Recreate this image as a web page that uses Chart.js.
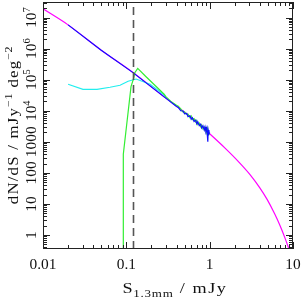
<!DOCTYPE html>
<html>
<head>
<meta charset="utf-8">
<script src="https://cdn.jsdelivr.net/npm/chart.js@4/dist/chart.umd.min.js"></script>
<style>
  html, body { margin: 0; padding: 0; background: #ffffff; }
  #counts { display: block; }
</style>
</head>
<body>
<canvas id="counts" width="302" height="300"></canvas>
<script>
// flux (mJy) and dN/dS values
const sModel = [0.01, 0.02, 0.05, 0.12, 0.3, 0.6, 1.0, 1.53, 2.2, 3.05, 4.0, 4.89, 6.0, 7.0, 8.0, 8.97, 9.6];
const nModel = [1.9e7, 5.8e6, 8.9e5, 1.7e5, 2.5e4, 6.1e3, 1.81e3, 625, 235, 88, 33, 14, 4.9, 1.99, 0.81, 0.346, 0.2];

const sBlue = [0.02, 0.05, 0.118, 0.3, 0.4, 0.42, 0.45, 0.48, 0.5, 0.53, 0.55, 0.58, 0.6, 0.62, 0.65, 0.68, 0.7, 0.72,
               0.75, 0.78, 0.8, 0.83, 0.86, 0.88, 0.9, 0.92, 0.94, 0.95, 0.96, 0.98, 1.0];
const nBlue = [5.8e6, 8.9e5, 1.75e5, 2.5e4, 1.37e4, 12800, 10000, 9800, 8000, 8200, 6400, 6900, 5300, 6000, 4500, 5000, 3800, 4400,
               3300, 3700, 2800, 3300, 2400, 3000, 2200, 2700, 1500, 1000, 2400, 1800, 2000];

const sGreen = [0.0919, 0.092, 0.1138, 0.121, 0.127, 0.137, 0.17, 0.22, 0.284, 0.3, 0.35, 0.4, 0.42, 0.45, 0.48, 0.5, 0.53,
                0.55, 0.58, 0.6, 0.62, 0.65, 0.68, 0.7, 0.72, 0.75, 0.78, 0.8, 0.83, 0.86, 0.88, 0.9, 0.92, 0.94, 0.96, 0.98];
const nGreen = [0.01, 400, 6.0e4, 1.0e5, 1.7e5, 2.3e5, 1.29e5, 6.6e4, 3.4e4, 2.8e4, 1.9e4, 1.5e4, 14000, 11500, 9000, 9200, 7600,
                7800, 6000, 6800, 5200, 5600, 4300, 4800, 3600, 4000, 3100, 3500, 2600, 3000, 2300, 2800, 2000, 2600, 1700, 2200];

const sCyan = [0.02, 0.0302, 0.0445, 0.0637, 0.084, 0.105, 0.131, 0.193, 0.284, 0.3];
const nCyan = [7.1e4, 4.9e4, 4.9e4, 5.7e4, 6.6e4, 8.9e4, 1.05e5, 7.1e4, 3.2e4, 2.6e4];

const sCut = 0.12;

const xTicks = [0.01, 0.1, 1, 10];
const xTickLabels = ['0.01', '0.1', '1', '10'];
const yTicks = [1, 10, 100, 1000, 1e4, 1e5, 1e6, 1e7];
const yTickBase = ['1', '10', '100', '1000', '10', '10', '10', '10'];
const yTickExp = ['', '', '', '', '4', '5', '6', '7'];

const xMin = 0.01, xMax = 10;
const yMin = 0.355, yMax = 3.16e7;

const FONT = '"Liberation Serif", "Times New Roman", serif';

function pts(xs, ys) {
    return xs.map((x, i) => ({x: x, y: ys[i]}));
}

// draw a run of text pieces (size, vertical shift, letter gap) centred on (x, y)
function drawRich(ctx, segs, x, y, rot, stretch) {
    ctx.save();
    ctx.translate(x, y);
    ctx.rotate(rot);
    ctx.scale(stretch, 1);
    ctx.textBaseline = 'alphabetic';
    ctx.textAlign = 'left';
    let total = 0;
    segs.forEach(s => {
        ctx.font = s.size + 'px ' + FONT;
        for (const ch of s.t) total += ctx.measureText(ch).width + (s.gap || 0);
    });
    let cx = -total / 2;
    segs.forEach(s => {
        ctx.font = s.size + 'px ' + FONT;
        for (const ch of s.t) {
            ctx.fillText(ch, cx, s.dy || 0);
            cx += ctx.measureText(ch).width + (s.gap || 0);
        }
    });
    ctx.restore();
}

//frame, inward ticks, labels, cut line
const pgFrame = {
    id: 'pgFrame',
    afterDatasetsDraw: (chart) => {
        const {ctx, chartArea: {top, bottom, left, right}, scales: {x, y}} = chart;
        ctx.save();

        // completeness cut
        const xc = Math.round(x.getPixelForValue(sCut)) + 0.5;
        ctx.strokeStyle = '#555555';
        ctx.lineWidth = 1.6;
        ctx.setLineDash([8, 5]);
        ctx.beginPath();
        ctx.moveTo(xc, bottom);
        ctx.lineTo(xc, top);
        ctx.stroke();
        ctx.setLineDash([]);

        ctx.strokeStyle = '#222222';
        ctx.lineWidth = 1;
        ctx.strokeRect(left + 0.5, top + 0.5, right - left - 1, bottom - top - 1);

        ctx.beginPath();
        for (let d = -2; d <= 1; d++) {
            for (let k = 1; k <= 9; k++) {
                const v = k * Math.pow(10, d);
                if (v < xMin * 0.999 || v > xMax * 1.001) continue;
                const px = Math.round(x.getPixelForValue(v)) + 0.5;
                const len = k === 1 ? 7 : 4;
                ctx.moveTo(px, bottom); ctx.lineTo(px, bottom - len);
                ctx.moveTo(px, top); ctx.lineTo(px, top + len);
            }
        }
        for (let d = -1; d <= 7; d++) {
            for (let k = 1; k <= 9; k++) {
                const v = k * Math.pow(10, d);
                if (v < yMin || v > yMax) continue;
                const py = Math.round(y.getPixelForValue(v)) + 0.5;
                const len = k === 1 ? 7 : 4;
                ctx.moveTo(left, py); ctx.lineTo(left + len, py);
                ctx.moveTo(right, py); ctx.lineTo(right - len, py);
            }
        }
        ctx.stroke();

        ctx.fillStyle = '#111111';
        xTicks.forEach((v, i) => {
            drawRich(ctx, [{t: xTickLabels[i], size: 14}], x.getPixelForValue(v), 268.5, 0, 1.1);
        });
        yTicks.forEach((v, i) => {
            const segs = [{t: yTickBase[i], size: 14}];
            if (yTickExp[i]) segs.push({t: yTickExp[i], size: 9.5, dy: -6});
            drawRich(ctx, segs, 35.5, y.getPixelForValue(v), -Math.PI / 2, 1.1);
        });

        drawRich(ctx, [
            {t: 'S', size: 14, gap: 0.5},
            {t: '1.3mm', size: 10, dy: 4, gap: 0.6},
            {t: ' / mJy', size: 14, gap: 1.2}
        ], 175, 293, 0, 1.3);

        drawRich(ctx, [
            {t: 'dN/dS / mJy', size: 14, gap: 1},
            {t: '\u22121', size: 10, dy: -6, gap: 0.5},
            {t: ' deg', size: 14, gap: 1},
            {t: '\u22122', size: 10, dy: -6, gap: 0.5}
        ], 18, 125, -Math.PI / 2, 1.2);

        ctx.restore();
    }
};

const line = (data, color) => ({
    data: data,
    borderColor: color,
    borderWidth: 1.2,
    pointRadius: 0,
    fill: false,
    tension: 0
});

const modelSet = line(pts(sModel, nModel), '#ff00ff');
modelSet.cubicInterpolationMode = 'monotone';

new Chart(document.getElementById('counts'), {
    type: 'line',
    data: {
        datasets: [
            line(pts(sBlue, nBlue), '#1010ff'),
            line(pts(sGreen, nGreen), '#33ee33'),
            line(pts(sCyan, nCyan), '#22eeee'),
            modelSet
        ]
    },
    options: {
        responsive: false,
        animation: false,
        layout: {
            padding: {left: 43, right: 9, top: 2, bottom: 51}
        },
        scales: {
            x: {type: 'logarithmic', min: xMin, max: xMax, display: false},
            y: {type: 'logarithmic', min: yMin, max: yMax, display: false}
        },
        plugins: {
            legend: {display: false},
            tooltip: {enabled: false}
        }
    },
    plugins: [pgFrame]
});
</script>
</body>
</html>
